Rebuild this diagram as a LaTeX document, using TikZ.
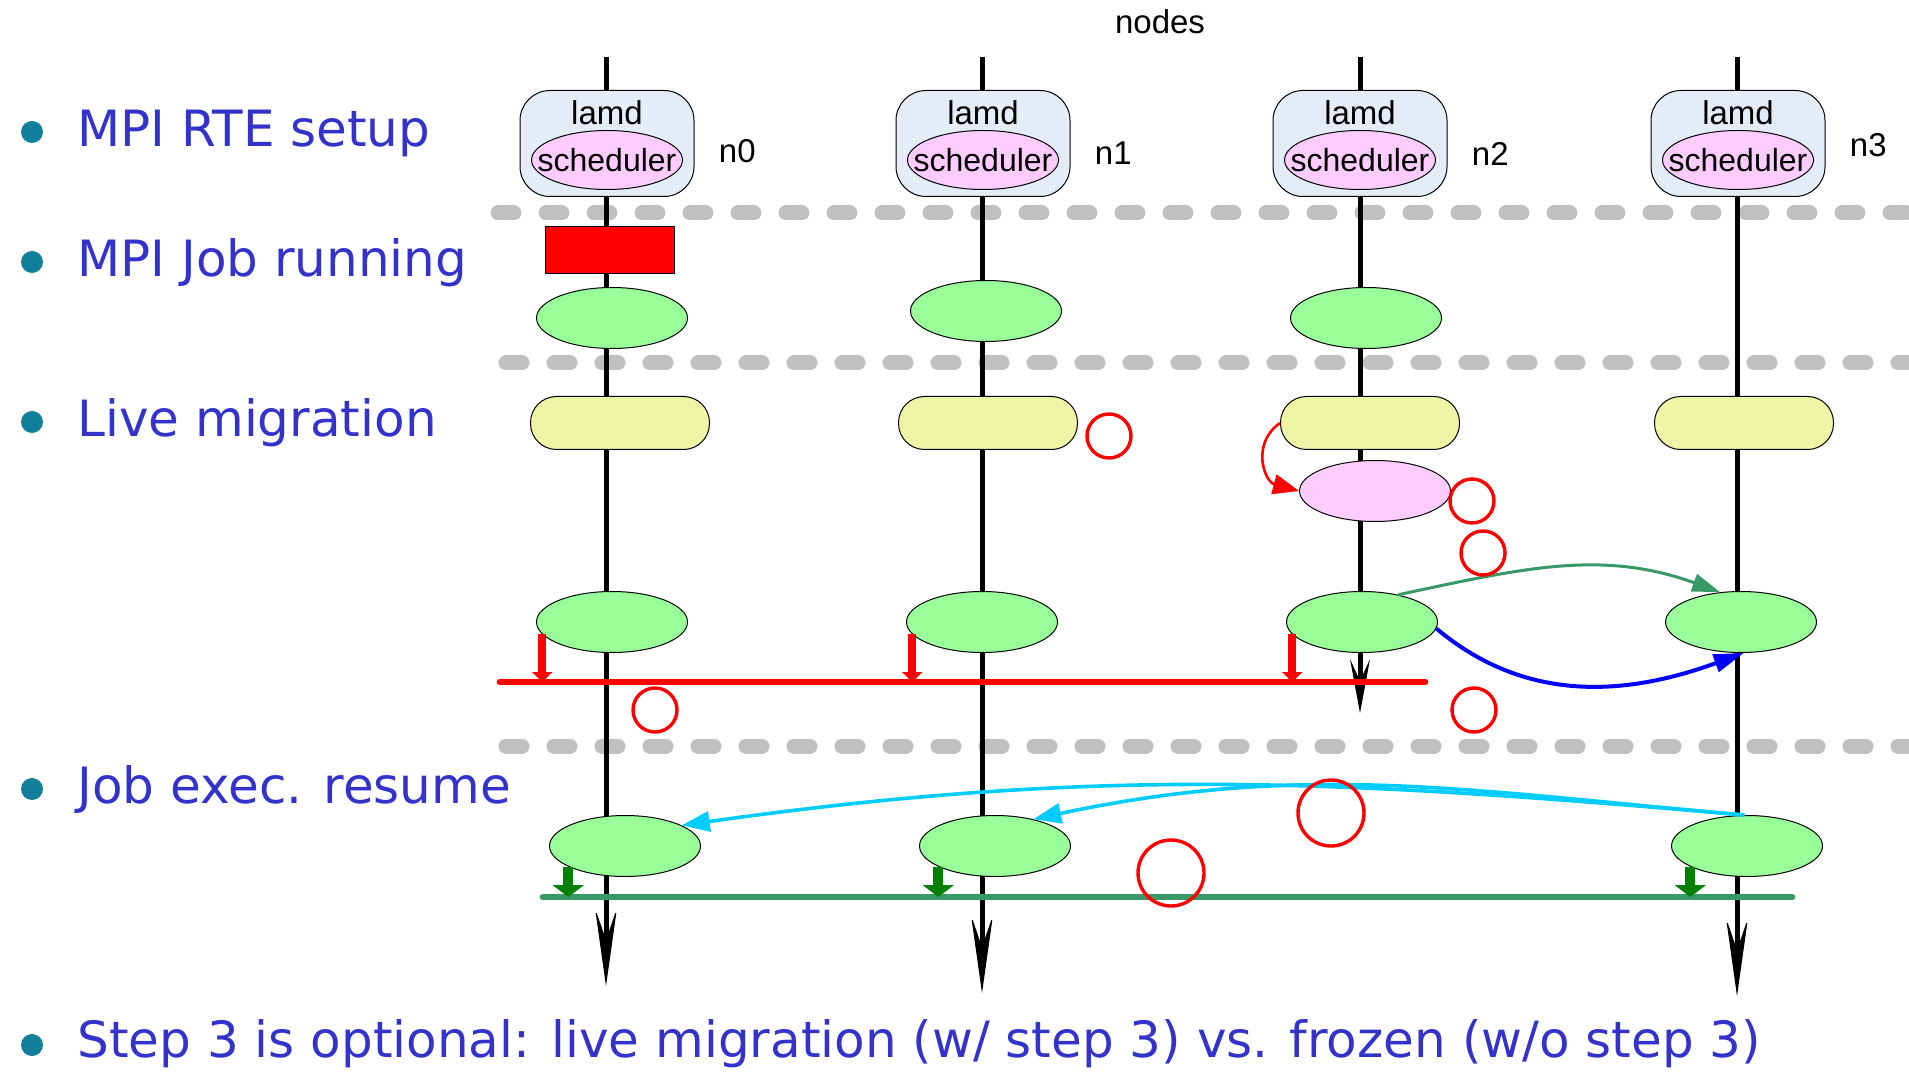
\documentclass[tikz,border=0pt]{standalone}
\usepackage{fontspec}
\setmainfont{Liberation Sans}
\newfontfamily\stepfont{DejaVu Sans}
\usetikzlibrary{arrows.meta,positioning,shapes.geometric}

\definecolor{stepBlue}{RGB}{51,51,204}
\definecolor{dotTeal}{RGB}{18,127,156}
\definecolor{lamdFill}{RGB}{228,236,247}
\definecolor{schedPink}{RGB}{255,204,255}
\definecolor{procGreen}{RGB}{153,255,153}
\definecolor{ckptYellow}{RGB}{238,245,165}
\definecolor{sepGray}{RGB}{192,192,192}
\definecolor{barGreen}{RGB}{56,153,102}
\definecolor{dropGreen}{RGB}{0,128,0}
\definecolor{copyCyan}{RGB}{0,204,255}

\begin{document}
\begin{tikzpicture}[x=0.5pt, y=-0.5pt,
    lifeline/.style={line width=2.5pt, -{Stealth[length=39pt, width=11pt, inset=16pt, line width=0.5pt]}},
    separator/.style={sepGray, line width=7.5pt, line cap=round, dash pattern=on 8pt off 16pt},
    headbox/.style={rectangle, rounded corners=15pt, draw, line width=0.5pt, fill=lamdFill, minimum width=87pt, minimum height=53pt},
    sched/.style={ellipse, draw, line width=0.5pt, fill=schedPink, minimum width=75.5pt, minimum height=29.5pt, inner xsep=-11.5pt, inner ysep=0pt, font=\fontsize{16}{16}\selectfont},
    proc/.style={ellipse, draw, line width=0.5pt, fill=procGreen, minimum width=75.5pt, minimum height=30.5pt},
    ckpt/.style={rectangle, rounded corners=13pt, draw, line width=0.5pt, fill=ckptYellow, minimum width=89.5pt, minimum height=26.5pt},
    labtxt/.style={font=\fontsize{16.5}{18}\selectfont, inner sep=0pt},
    steptxt/.style={font=\stepfont\fontsize{25}{30}\selectfont, text=stepBlue, anchor=base west, inner sep=0pt},
    stepdot/.style={circle, fill=dotTeal, minimum size=11pt, inner sep=0pt},
    ring/.style={circle, draw=red, line width=1.7pt, minimum size=22pt, inner sep=0pt},
    bigring/.style={ring, minimum size=33pt},
    bar/.style={line width=3.4pt, line cap=round},
    reddrop/.style={red, line width=4pt, -{Triangle[length=5pt, width=10pt]}},
    greendrop/.style={dropGreen, line width=5pt, -{Triangle[length=6pt, width=15.5pt]}}]

\useasboundingbox (0,0) rectangle (1909,1074);

% phase separators
\draw[separator] (498,213) -- (1909,213);
\draw[separator] (506,363) -- (1909,363);
\draw[separator] (506,746) -- (1909,746);

% one time line per node
\coordinate (top0) at (606,57);  \coordinate (end0) at (606,986);
\coordinate (top1) at (982,57);  \coordinate (end1) at (982,993);
\coordinate (top2) at (1360,57); \coordinate (end2) at (1360,713);
\coordinate (top3) at (1737,57); \coordinate (end3) at (1737,996);
\draw[lifeline] (top0) -- (end0);
\draw[lifeline] (top1) -- (end1);
\draw[lifeline, -{Stealth[length=27pt, width=10pt, inset=11pt, line width=0.5pt]}] (top2) -- (end2);
\draw[lifeline] (top3) -- (end3);

\node[labtxt] (title) at (1160,22) {nodes};

% lamd daemons with their schedulers
\node[headbox] (h0) at (607,143.5) {};
\node[headbox] (h1) at (983,143.5) {};
\node[headbox] (h2) at (1360,143.5) {};
\node[headbox] (h3) at (1738,143.5) {};
\node[labtxt] (l0) at (607,113) {lamd};
\node[labtxt] (l1) at (983,113) {lamd};
\node[labtxt] (l2) at (1360,113) {lamd};
\node[labtxt] (l3) at (1738,113) {lamd};
\node[sched] (s0) at (607,160) {scheduler};
\node[sched] (s1) at (983,160) {scheduler};
\node[sched] (s2) at (1360,160) {scheduler};
\node[sched] (s3) at (1738,160) {scheduler};
\node[labtxt, right=12pt of h0, yshift=-4pt] (n0) {n0};
\node[labtxt, right=12pt of h1, yshift=-5pt] (n1) {n1};
\node[labtxt, right=12pt of h2, yshift=-5pt] (n2) {n2};
\node[labtxt, right=12pt of h3, yshift=-1pt] (n3) {n3};

% job running
\node[rectangle, draw, line width=0.5pt, fill=red, minimum width=64.5pt, minimum height=23.5pt] (job) at (610,250) {};
\node[proc] (a0) at (612,318) {};
\node[proc] (a1) at (986,311) {};
\node[proc] (a2) at (1366,318) {};

% live migration
\node[ckpt] (y0) at (620,423) {};
\node[ckpt] (y1) at (988,423) {};
\node[ckpt] (y2) at (1370,423) {};
\node[ckpt] (y3) at (1744,423) {};
\node[ellipse, draw, line width=0.5pt, fill=schedPink, minimum width=75.5pt, minimum height=30.5pt] (p2) at (1375,491) {};
\node[proc] (b0) at (612,622) {};
\node[proc] (b1) at (982,622) {};
\node[proc] (b2) at (1362,622) {};
\node[proc] (b3) at (1741,622) {};

\draw[red, line width=1.3pt, -{Triangle[length=13pt, width=10pt]}] (y2.west) to[out=215, in=165, looseness=1.3] (p2.west);
\draw[barGreen, line width=1.5pt, -{Triangle[length=14pt, width=9pt]}] (b2.37) to[out=12, in=160] (b3.125);
\draw[blue, line width=2pt, -{Triangle[length=15pt, width=9pt]}] (b2.-5) to[out=-40, in=200] (b3.-85);

\coordinate (rbL) at (500,682);
\coordinate (rbR) at (1425,682);
\draw[bar, red] (rbL) -- (rbR);
\draw[reddrop] (b0.190) -- (b0.190 |- rbL);
\draw[reddrop] (b1.190) -- (b1.190 |- rbL);
\draw[reddrop] (b2.190) -- (b2.190 |- rbL);

% job execution resumes
\node[proc] (c0) at (625,846) {};
\node[proc] (c1) at (995,846) {};
\node[proc] (c3) at (1747,846) {};
\draw[copyCyan, line width=1.8pt, -{Triangle[length=14pt, width=10pt]}] (c3.95) to[out=175, in=8] (c0.20);
\draw[copyCyan, line width=1.8pt, -{Triangle[length=14pt, width=10pt]}] (c3.95) to[out=175, in=12] (c1.35);

\coordinate (gbL) at (543,897);
\coordinate (gbR) at (1792,897);
\draw[bar, barGreen] (gbL) -- (gbR);
\draw[greendrop] (c0.200) -- (c0.200 |- gbL);
\draw[greendrop] (c1.200) -- (c1.200 |- gbL);
\draw[greendrop] (c3.200) -- (c3.200 |- gbL);

% step marks
\node[ring] (r1) at (1109,436) {};
\node[ring] (r2) at (1472,501) {};
\node[ring] (r3) at (1483,553) {};
\node[ring] (r4) at (655,710) {};
\node[ring] (r5) at (1474,710) {};
\node[bigring] (r6) at (1331,813) {};
\node[bigring] (r7) at (1171,873) {};

% steps
\node[stepdot] (d1) at (32,132) {};
\node[stepdot] (d2) at (32,262) {};
\node[stepdot] (d3) at (32,422) {};
\node[stepdot] (d4) at (32,789) {};
\node[stepdot] (d5) at (32,1045) {};
\node[steptxt] (t1) at (77,147) {MPI RTE setup};
\node[steptxt] (t2) at (77,277) {MPI Job running};
\node[steptxt] (t3) at (77,437) {Live migration};
\node[steptxt] (t4) at (77,803) {Job exec. resume};
\node[steptxt] (t5) at (77,1057) {Step 3 is optional: live migration (w/ step 3) vs. frozen (w/o step 3)};
\end{tikzpicture}
\end{document}
